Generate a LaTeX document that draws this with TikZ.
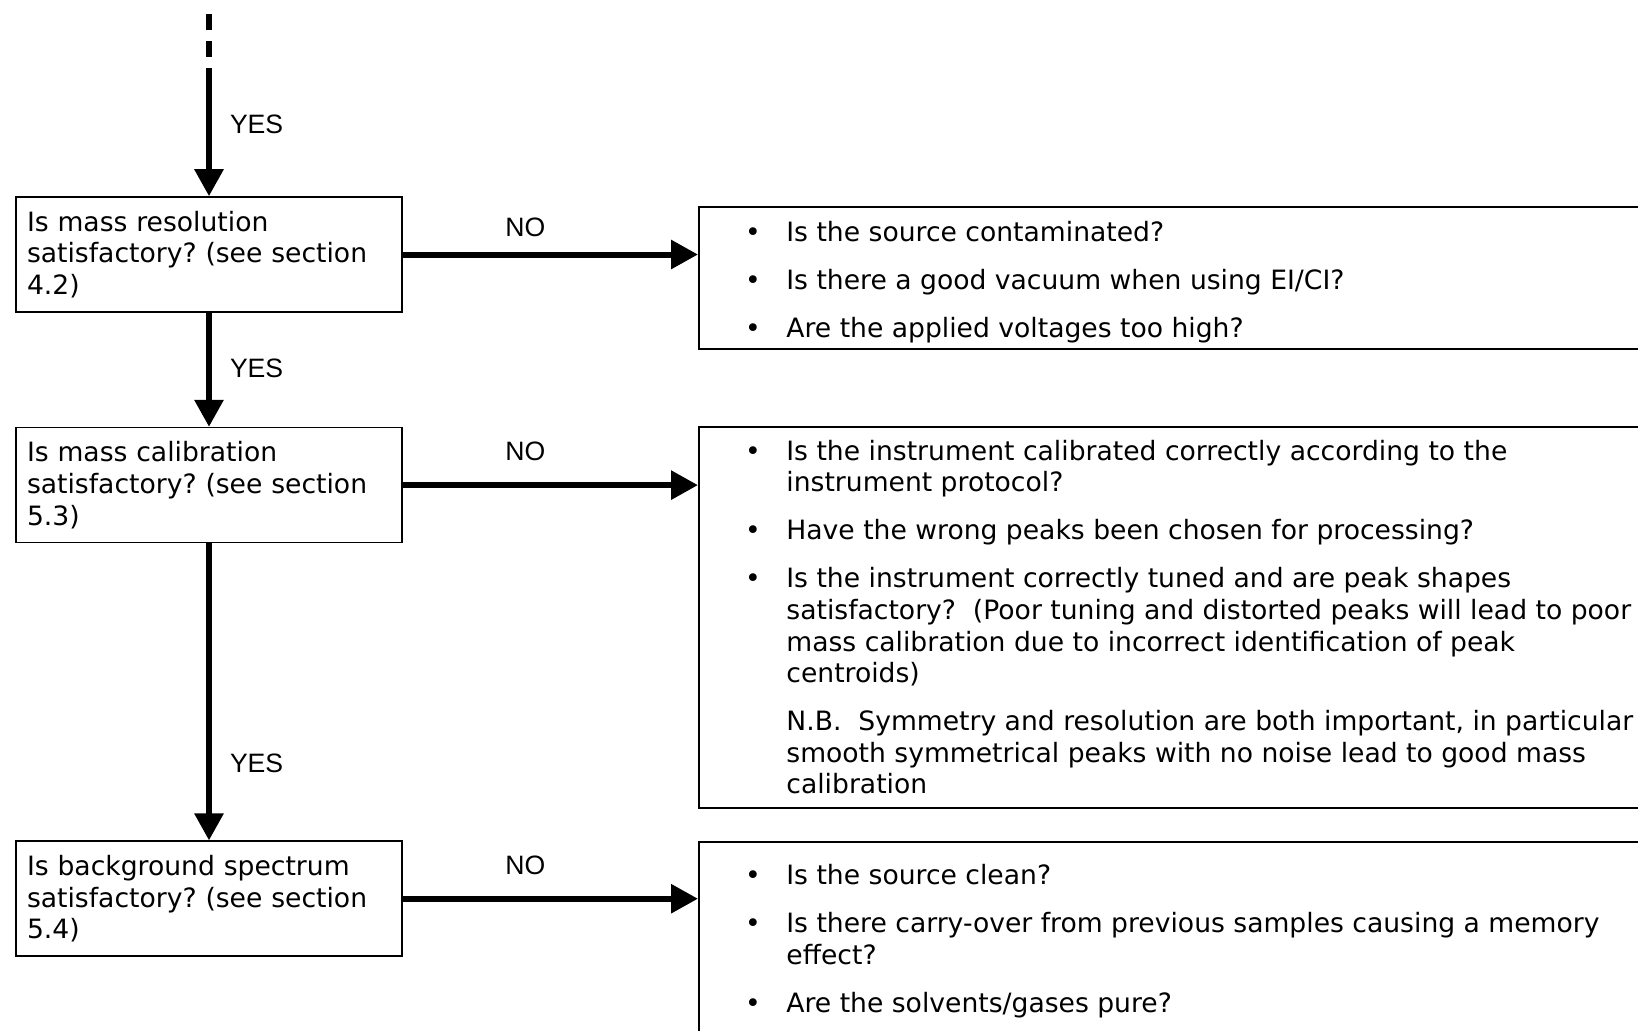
\documentclass[tikz,border=0pt]{standalone}
\usepackage{fontspec}
\setmainfont{DejaVu Sans}
\newfontfamily\labelfont{Liberation Sans}
\usetikzlibrary{positioning, arrows.meta}
\frenchspacing
\newcommand{\itembullet}{\llap{\makebox[20.7pt][l]{\textbullet}}}
\tikzset{
    question/.style={draw, line width=0.8pt, minimum height=57.5pt, text width=182pt,
        align=left, inner xsep=5.5pt, inner ysep=0pt, font=\fontsize{13.3}{15.8}\selectfont},
    answerbox/.style={draw, line width=0.8pt, anchor=north west, minimum width=481pt, inner sep=0pt},
    answertext/.style={anchor=north west, inner sep=0pt, align=left, font=\fontsize{13.3}{15.8}\selectfont},
    flow/.style={line width=3pt, -{Triangle[length=13.5pt, width=14pt]}},
    yes/.style={right=9pt, inner sep=0pt, font=\labelfont\fontsize{13.3}{16}\selectfont},
    no/.style={above=#1, inner sep=0pt, font=\labelfont\fontsize{13.3}{16}\selectfont},
    no/.default=10.6pt,
}

\begin{document}
\begin{tikzpicture}[x=0.5pt, y=-0.5pt]

            \useasboundingbox (0,0) rectangle (1638,1030);
            \fill[white] (0,0) rectangle (1638,1030);
            \clip (0,0) rectangle (1638,1030);

            % Questions
            \node[question] (q1) at (209,254.5) {Is mass resolution\\ satisfactory? (see section\\ 4.2)};
            \node[question, below=57pt of q1] (q2) {Is mass calibration\\ satisfactory? (see section\\ 5.3)};
            \node[question, below=148.5pt of q2] (q3) {Is background spectrum\\ satisfactory? (see section\\ 5.4)};

            % Answer boxes
            \node[answerbox, minimum height=71pt] (a1) at (698,206) {};
            \node[answerbox, minimum height=190.5pt] (a2) at (698,426) {};
            \node[answerbox, minimum height=109.5pt] (a3) at (698,841) {};

            \node[answertext] (t1) at (786,218.6) {\strut\itembullet Is the source contaminated?\\[8.2pt]
                \itembullet Is there a good vacuum when using EI/CI?\\[8.2pt]
                \itembullet Are the applied voltages too high?};
            \node[answertext] (t2) at (786,437.8) {\strut\itembullet Is the instrument calibrated correctly according to the\\
                instrument protocol?\\[8.2pt]
                \itembullet Have the wrong peaks been chosen for processing?\\[8.2pt]
                \itembullet Is the instrument correctly tuned and are peak shapes\\
                satisfactory?\ \ (Poor tuning and distorted peaks will lead to poor\\
                mass calibration due to incorrect identification of peak\\
                centroids)\\[8.2pt]
                N.B.\ \ Symmetry and resolution are both important, in particular\\
                smooth symmetrical peaks with no noise lead to good mass\\
                calibration};
            \node[answertext] (t3) at (786,861.9) {\strut\itembullet Is the source clean?\\[8.2pt]
                \itembullet Is there carry-over from previous samples causing a memory\\
                effect?\\[8.2pt]
                \itembullet Are the solvents/gases pure?};

            % Incoming line
            \coordinate (dashtop) at (209,14);
            \coordinate (entry) at (209,68);
            \draw[line width=3pt, dash pattern=on 8pt off 5.5pt] (dashtop) -- (entry);
            \draw[flow] (entry) -- node[yes, pos=0.44] {YES} (q1.north);

            % YES branches
            \draw[flow] (q1.south) -- node[yes, pos=0.49] {YES} (q2.north);
            \draw[flow] (q2.south) -- node[yes, pos=0.74] {YES} (q3.north);

            % NO branches
            \draw[flow] (q1.east) -- node[no=7.2pt, pos=0.415] {NO} (q1.east -| a1.west);
            \draw[flow] (q2.east) -- node[no, pos=0.415] {NO} (q2.east -| a2.west);
            \draw[flow] (q3.east) -- node[no, pos=0.415] {NO} (q3.east -| a3.west);

        \end{tikzpicture}
\end{document}
